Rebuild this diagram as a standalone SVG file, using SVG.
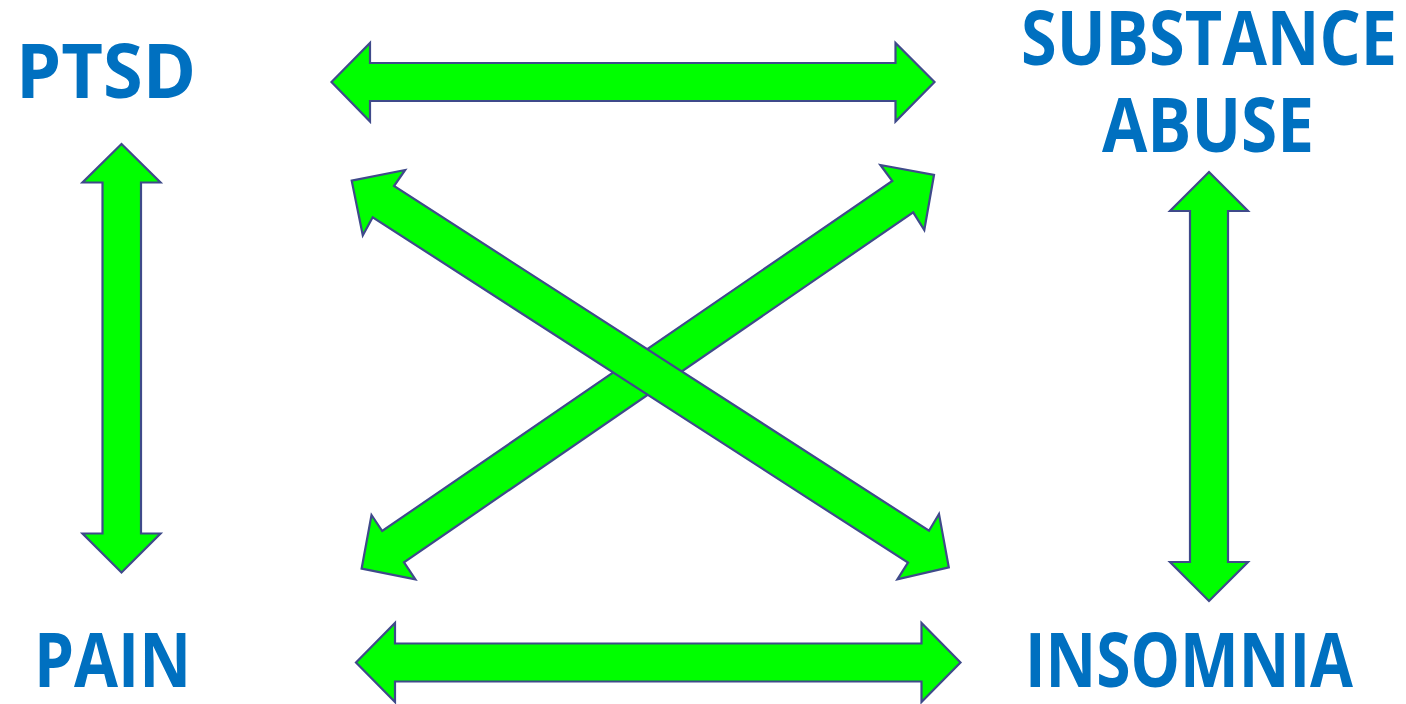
<svg xmlns="http://www.w3.org/2000/svg" width="1406" height="704" viewBox="0 0 1406 704">
<style>
.arr{fill:#00FF00;stroke:#3F4A8A;stroke-width:2.2;stroke-linejoin:miter}
.lbl{font-family:"Open Sans","Liberation Sans",sans-serif;font-weight:700;fill:#0070C0;font-size:75px}
</style>
<rect width="1406" height="704" fill="#FFFFFF"/>
<g id="ptsd"><text class="lbl" x="16" y="98" textLength="180" lengthAdjust="spacingAndGlyphs">PTSD</text></g>
<g id="substance-abuse">
<text class="lbl" x="1021" y="65" textLength="376" lengthAdjust="spacingAndGlyphs">SUBSTANCE</text>
<text class="lbl" x="1102" y="152" textLength="212" lengthAdjust="spacingAndGlyphs">ABUSE</text>
</g>
<g id="pain"><text class="lbl" x="34" y="687" textLength="157" lengthAdjust="spacingAndGlyphs">PAIN</text></g>
<g id="insomnia"><text class="lbl" x="1025" y="687" textLength="328" lengthAdjust="spacingAndGlyphs">INSOMNIA</text></g>
<g id="connectors">
<polygon class="arr" points="331.5,82 370,43 370,63 895.5,63 895.5,43 934.5,82 895.5,121.5 895.5,101 370,101 370,121.5"/>
<polygon class="arr" points="356,662.5 395,623 395,643.5 921.5,643.5 921.5,623 960.5,662.5 921.5,702 921.5,681.5 395,681.5 395,702"/>
<polygon class="arr" points="121.5,144 160.5,182.5 141,182.5 141,533.5 160.5,533.5 121.5,572.5 82.5,533.5 102.5,533.5 102.5,182.5 82.5,182.5"/>
<polygon class="arr" points="1209,172 1248,211 1228,211 1228,562 1248,562 1209,601 1170,562 1190,562 1190,211 1170,211"/>
<polygon class="arr" points="934,175 924.3,230 913.2,212.3 404,562.3 415.4,579.3 361.6,568.7 371.5,515 382.2,531 892.3,181 880.4,165"/>
<polygon class="arr" points="351.7,180.7 405.1,170 394,186 929,530.7 939,514 948.8,567.3 897.4,579.3 908,562.7 372.7,217.3 362.8,235.3"/>
</g>
</svg>
